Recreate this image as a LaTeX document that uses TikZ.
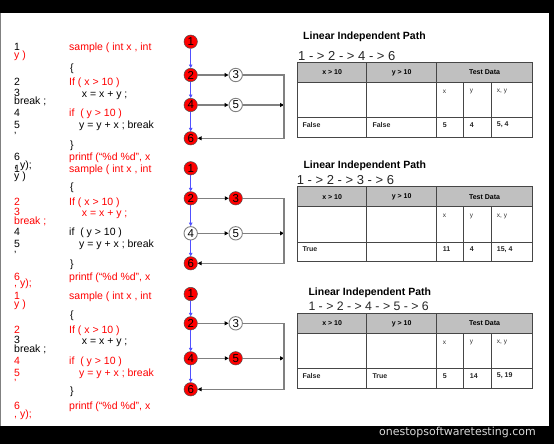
\documentclass[tikz,border=0pt]{standalone}
\usepackage{fontspec}
\setmainfont{Liberation Sans}
\newfontfamily\wmfont{DejaVu Sans}
\usetikzlibrary{arrows.meta}
\definecolor{codered}{RGB}{255,0,0}
\definecolor{hdrgray}{RGB}{192,192,192}
\definecolor{edgeblue}{RGB}{80,80,255}
\definecolor{linegray}{RGB}{128,128,128}
\definecolor{tablegray}{RGB}{70,70,70}
\tikzset{
  code/.style={anchor=base west, inner sep=0pt, font=\fontsize{10.5}{12}\selectfont},
  cred/.style={code, text=codered},
  cblk/.style={code, text=black},
  vtx/.style={circle, minimum size=13.4pt, inner sep=0pt, font=\fontsize{11.5}{12}\selectfont},
  hot/.style={vtx, fill=red, draw=black!70, line width=0.5pt},
  cold/.style={vtx, fill=white, draw=gray, line width=0.9pt},
  flow/.style={draw=edgeblue, line width=0.9pt, -{Triangle[length=3.5pt,width=3.5pt]}},
  link/.style={draw=linegray, line width=1.1pt},
  linkarr/.style={link, -{Triangle[length=4pt,width=4pt,color=black]}},
  tline/.style={draw=tablegray, line width=1pt},
  thead/.style={font=\fontsize{7}{8}\selectfont\bfseries, inner sep=0pt},
  tsub/.style={font=\fontsize{6.5}{8}\selectfont, inner sep=0pt, anchor=west, text=black!80},
  tval/.style={font=\fontsize{7}{8}\selectfont\bfseries, inner sep=0pt, anchor=west, text=black!85},
  ttitle/.style={anchor=base west, inner sep=0pt, font=\fontsize{10.5}{12}\selectfont\bfseries},
  tpath/.style={anchor=base west, inner sep=0pt, font=\fontsize{13}{14}\selectfont, text=black!85}
}
% flow graph: #1 prefix, #2..#5 y of nodes 1,2,4,6, #6 style of 4, #7 style of 3, #8 style of 5
\newcommand\drawflow[8]{%
  \node[hot] (#1n1) at (190.7,#2) {1};
  \node[hot] (#1n2) at (190.7,#3) {2};
  \node[#6] (#1n4) at (190.7,#4) {4};
  \node[hot] (#1n6) at (190.7,#5) {6};
  \node[#7] (#1n3) at (235.7,#3) {3};
  \node[#8] (#1n5) at (235.7,#4) {5};
  \coordinate (#1r3) at (284,#3);
  \coordinate (#1r5) at (284,#4);
  \coordinate (#1r6) at (284,#5);
  \draw[flow] (#1n1) -- (#1n2);
  \draw[flow] (#1n2) -- (#1n4);
  \draw[flow] (#1n4) -- (#1n6);
  \draw[linkarr] (#1n2) -- (#1n3);
  \draw[linkarr] (#1n4) -- (#1n5);
  \draw[linkarr] (#1n5) -- (#1r5);
  \draw[linkarr] (#1n3) -- (#1r3) -- (#1r6) -- (#1n6);
}
% table: #1 prefix, #2 top, #3 col1, #4 col2, #5 x, #6 y, #7 xy
\newcommand\liptable[7]{%
  \fill[hdrgray] (297.7,#2) rectangle (532.3,{#2+20});
  \draw[tline] (297.7,{#2+20}) -- (532.3,{#2+20});
  \draw[tline] (297.7,{#2+55.5}) -- (532.3,{#2+55.5});
  \draw[tline] (366.7,#2) -- (366.7,{#2+75});
  \draw[tline] (436.7,#2) -- (436.7,{#2+75});
  \draw[tline] (463.3,{#2+20}) -- (463.3,{#2+75});
  \draw[tline] (491.7,{#2+20}) -- (491.7,{#2+75});
  \draw[tline] (297.7,#2) rectangle (532.3,{#2+75});
  \node[thead] (#1h1) at (332.2,{#2+10}) {x > 10};
  \node[thead] (#1h2) at (401.7,{#2+10}) {y > 10};
  \node[thead] (#1h3) at (484.5,{#2+10}) {Test Data};
  \node[tsub] (#1s1) at (442.7,{#2+29.4}) {x};
  \node[tsub] (#1s2) at (469.7,{#2+29.4}) {y};
  \node[tsub] (#1s3) at (496.7,{#2+29.4}) {x, y};
  \node[tval] (#1v1) at (302.3,{#2+62.7}) {#3};
  \node[tval] (#1v2) at (372.3,{#2+62.7}) {#4};
  \node[tval] (#1v3) at (442.7,{#2+62.7}) {#5};
  \node[tval] (#1v4) at (469.7,{#2+62.7}) {#6};
  \node[tval] (#1v5) at (496.7,{#2+62.7}) {#7};
}
\begin{document}
\begin{tikzpicture}[x=1pt,y=-1pt]
\useasboundingbox (0,0) rectangle (554,444);
\fill[white] (0,0) rectangle (554,444);
% frame
\fill[black] (0,0) rectangle (554,13);
\fill[black] (0,426) rectangle (554,444);
\fill[black] (549,0) rectangle (554,444);
\draw[gray, line width=0.8pt] (0.4,13) -- (0.4,426);
\node[anchor=east, inner sep=0pt, text=black!15, font=\wmfont\fontsize{11}{12}\selectfont] (wm) at (536,432) {onestopsoftwaretesting.com};

% ---------- block 1 ----------
\node[cblk] (a1) at (14,51) {1};
\node[cred] (aw1) at (14,59) {y )};
\node[cred] (ac1) at (69,51) {sample ( int x , int};
\node[cblk] (ab1) at (70,71) {\{};
\node[cblk] (a2) at (14,85) {2};
\node[cred] (ac2) at (69,85) {If ( x > 10 )};
\node[cblk] (a3) at (14,96) {3};
\node[cblk] (ac3) at (81.7,97) {x = x + y ;};
\node[cblk] (aw3) at (14,104) {break ;};
\node[cblk] (a4) at (14,116) {4};
\node[cred] (ac4) at (69,116) {if \ ( y > 10 )};
\node[cblk] (a5) at (14,128) {5};
\node[cblk] (ac5) at (79,128.5) {y = y + x ; break};
\node[cblk] (aw5) at (14,139) {'};
\node[cblk] (ab2) at (70,148) {\}};
\node[cblk] (a6) at (14,160) {6};
\node[cred] (ac6) at (69,160) {printf (“\%d \%d”, x};
\node[cblk] (aw6) at (14,168) {, y);};

% ---------- block 2 ----------
\node[cblk] (b1) at (14,172) {1};
\node[cblk] (bw1) at (14,179) {y )};
\node[cred] (bc1) at (69,172) {sample ( int x , int};
\node[cblk] (bb1) at (70,190) {\{};
\node[cred] (b2) at (14,205) {2};
\node[cred] (bc2) at (69,205) {If ( x > 10 )};
\node[cred] (b3) at (14,215) {3};
\node[cred] (bc3) at (81.7,216) {x = x + y ;};
\node[cred] (bw3) at (14,224) {break ;};
\node[cblk] (b4) at (14,235) {4};
\node[cblk] (bc4) at (69,235) {if \ ( y > 10 )};
\node[cblk] (b5) at (14,247) {5};
\node[cblk] (bc5) at (79,247) {y = y + x ; break};
\node[cblk] (bw5) at (14,258) {'};
\node[cblk] (bb2) at (70,267) {\}};
\node[cred] (b6) at (14,280) {6};
\node[cred] (bc6) at (69,280) {printf (“\%d \%d”, x};
\node[cred] (bw6) at (14,286) {, y);};

% ---------- block 3 ----------
\node[cred] (c1) at (14,299) {1};
\node[cred] (cw1) at (14,307) {y )};
\node[cred] (cc1) at (69,299) {sample ( int x , int};
\node[cblk] (cb1) at (70,318) {\{};
\node[cred] (c2) at (14,333) {2};
\node[cred] (cc2) at (69,333) {If ( x > 10 )};
\node[cblk] (c3) at (14,343) {3};
\node[cblk] (cc3) at (81.7,344) {x = x + y ;};
\node[cblk] (cw3) at (14,352.5) {break ;};
\node[cred] (c4) at (14,364) {4};
\node[cred] (cc4) at (69,364) {if \ ( y > 10 )};
\node[cred] (c5) at (14,376) {5};
\node[cred] (cc5) at (79,376) {y = y + x ; break};
\node[cred] (cw5) at (14,386) {'};
\node[cblk] (cb2) at (70,394) {\}};
\node[cred] (c6) at (14,409) {6};
\node[cred] (cc6) at (69,409) {printf (“\%d \%d”, x};
\node[cred] (cw6) at (14,417) {, y);};

% ---------- flow graphs ----------
\drawflow{ga}{41.7}{75}{105}{138.3}{hot}{cold}{cold}
\drawflow{gb}{168.3}{198.3}{233.3}{263.3}{cold}{hot}{cold}
\drawflow{gc}{294}{323.3}{358.3}{389.3}{hot}{cold}{hot}

% ---------- tables ----------
\node[ttitle] (ta) at (303,39.5) {Linear Independent Path};
\node[tpath] (pa) at (298,60) {1 - > 2 - > 4 - > 6};
\liptable{ta}{62.3}{False}{False}{5}{4}{5, 4}

\node[ttitle] (tb) at (303.3,168.3) {Linear Independent Path};
\node[tpath] (pb) at (296.7,184.3) {1 - > 2 - > 3 - > 6};
\liptable{tb}{186.7}{True}{}{11}{4}{15, 4}

\node[ttitle] (tc) at (308.3,295) {Linear Independent Path};
\node[tpath, font=\fontsize{12.3}{14}\selectfont] (pc) at (308.3,310) {1 - > 2 - > 4 - > 5 - > 6};
\liptable{tc}{313.3}{False}{True}{5}{14}{5, 19}
\end{tikzpicture}
\end{document}
